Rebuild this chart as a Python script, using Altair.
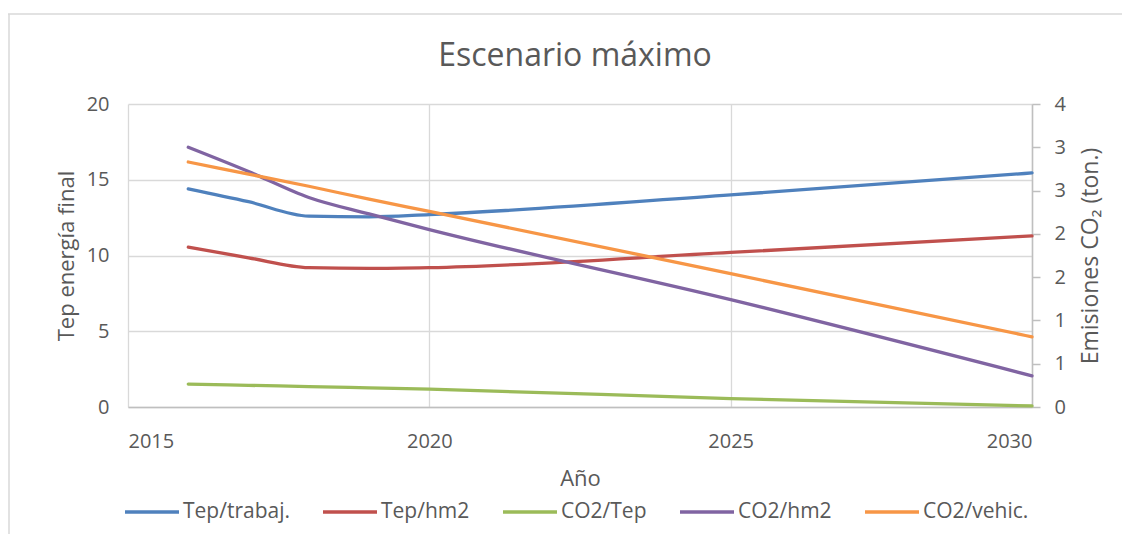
import altair as alt
import pandas as pd

# ---- data ----
years = [2016, 2017, 2018, 2019, 2020, 2025, 2030]
tep_trabaj = [14.4, 13.55, 12.6, 12.55, 12.7, 14.0, 15.45]
tep_hm2 = [10.55, 9.85, 9.2, 9.15, 9.2, 10.2, 11.3]
co2_tep = [0.265, 0.25, 0.236, 0.221, 0.206, 0.097, 0.012]
co2_hm2 = [3.0, 2.72, 2.42, 2.23, 2.05, 1.24, 0.36]
co2_vehic = [2.83, 2.69, 2.55, 2.40, 2.26, 1.54, 0.81]

series_names = ["Tep/trabaj.", "Tep/hm2", "CO2/Tep", "CO2/hm2", "CO2/vehic."]
series_colors = ["#4F81BD", "#C0504D", "#9BBB59", "#8064A2", "#F79646"]
left_series = ["Tep/trabaj.", "Tep/hm2"]
right_series = ["CO2/Tep", "CO2/hm2", "CO2/vehic."]

x_ticks = [2015, 2020, 2025, 2030]
left_ticks = [0, 5, 10, 15, 20]
right_ticks = [0, 0.5, 1, 1.5, 2, 2.5, 3, 3.5]

values = {
    "Tep/trabaj.": tep_trabaj,
    "Tep/hm2": tep_hm2,
    "CO2/Tep": co2_tep,
    "CO2/hm2": co2_hm2,
    "CO2/vehic.": co2_vehic,
}
rows = []
for name in series_names:
    for y, v in zip(years, values[name]):
        rows.append({"Año": y, "valor": v, "serie": name})
df = pd.DataFrame(rows)

GREY = "#595959"
FONT = "Open Sans"

x_enc = alt.X(
    "Año:Q",
    scale=alt.Scale(domain=[2015, 2030], nice=False),
    axis=alt.Axis(
        values=x_ticks, format="d", grid=True, gridColor="#d9d9d9", gridWidth=1.3,
        domainColor="#bfbfbf", domainWidth=1.5, ticks=False, labelPadding=24,
        labelFontSize=20, labelColor=GREY, title="Año", titleFontSize=22,
        titleColor=GREY, titleFontWeight="normal", titlePadding=17,
    ),
)

color_enc = alt.Color(
    "serie:N",
    scale=alt.Scale(domain=series_names, range=series_colors),
    legend=alt.Legend(
        title=None, orient="none", legendX=-5, legendY=379, direction="horizontal",
        columns=5, symbolType="stroke", symbolSize=2916, symbolStrokeWidth=3.5,
        labelFontSize=21, labelColor=GREY, labelOffset=2, columnPadding=26,
        labelLimit=300,
    ),
)

left = (
    alt.Chart(df)
    .transform_filter(alt.FieldOneOfPredicate(field="serie", oneOf=left_series))
    .mark_line(interpolate="monotone", strokeWidth=3.3, strokeCap="round")
    .encode(
        x=x_enc,
        y=alt.Y(
            "valor:Q",
            scale=alt.Scale(domain=[0, 20], nice=False),
            axis=alt.Axis(
                values=left_ticks, grid=True, gridColor="#d9d9d9", gridWidth=1.3,
                domain=False, ticks=False, labelPadding=19, labelFontSize=20,
                labelColor=GREY, title="Tep energía final", titleFontSize=22,
                titleColor=GREY, titleFontWeight="normal", titlePadding=8,
            ),
        ),
        color=color_enc,
        detail="serie:N",
    )
)

right = (
    alt.Chart(df)
    .transform_filter(alt.FieldOneOfPredicate(field="serie", oneOf=right_series))
    .mark_line(interpolate="monotone", strokeWidth=3.3, strokeCap="round")
    .encode(
        x=x_enc,
        y=alt.Y(
            "valor:Q",
            scale=alt.Scale(domain=[0, 3.5], nice=False),
            axis=alt.Axis(
                orient="right", values=right_ticks, format=".0f", grid=False,
                domainColor="#bfbfbf", domainWidth=1.5, ticks=True, tickColor="#bfbfbf",
                tickWidth=1.5, tickSize=8, labelPadding=14, labelFontSize=20,
                labelColor=GREY, title="Emisiones CO₂ (ton.)", titleFontSize=23,
                titleColor=GREY, titleFontWeight="normal", titleAngle=270,
                titleBaseline="top", titlePadding=14,
            ),
        ),
        color=color_enc,
        detail="serie:N",
    )
)

border_df = pd.DataFrame({"k": [0]})
border_top = alt.Chart(border_df).mark_rule(color="#d9d9d9", strokeWidth=1.5).encode(
    x=alt.value(-120), x2=alt.value(1000), y=alt.value(-90)
)
border_left = alt.Chart(border_df).mark_rule(color="#d9d9d9", strokeWidth=1.5).encode(
    x=alt.value(-119), y=alt.value(-90), y2=alt.value(440)
)

chart = (
    alt.layer(left, right, border_top, border_left)
    .resolve_scale(y="independent")
    .properties(
        width=904,
        height=303,
        autosize=alt.AutoSizeParams(type="none"),
        padding={"left": 120, "top": 96, "right": 90, "bottom": 127},
        title=alt.TitleParams(
            "Escenario máximo", fontSize=32, color=GREY, fontWeight="normal",
            anchor="middle", offset=-60, dx=-5, font=FONT,
        ),
        background="white",
    )
    .configure(font=FONT)
    .configure_view(stroke=None)
)

chart.save("out.html", embed_options={"renderer": "svg", "actions": False})
